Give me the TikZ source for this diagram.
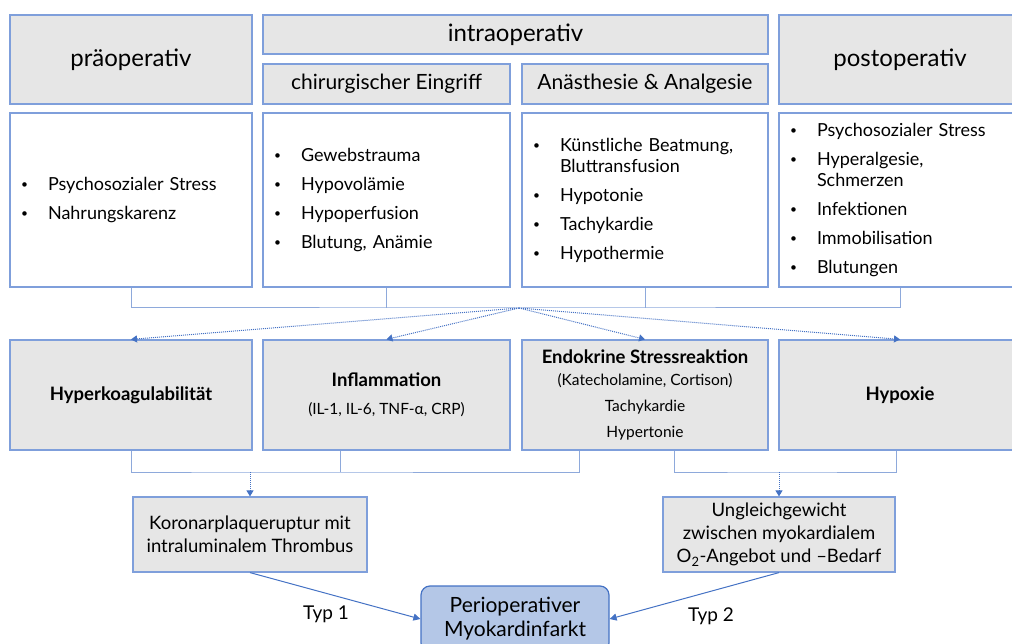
\documentclass[tikz,border=0pt]{standalone}
\usepackage{fontspec}
\setmainfont{Lato}
\usetikzlibrary{arrows.meta}

\definecolor{boxgray}{HTML}{E6E6E6}
\definecolor{boxline}{HTML}{7F9FDB}
\definecolor{linkblue}{HTML}{8EA9DB}
\definecolor{arrowblue}{HTML}{4472C4}
\definecolor{mifill}{HTML}{B4C7E7}

\newcommand{\fhead}{\fontsize{24}{28}\selectfont}
\newcommand{\fsubhead}{\fontsize{21}{24}\selectfont}
\newcommand{\flist}{\fontsize{18}{21}\selectfont}
\newcommand{\fnote}{\fontsize{15.5}{18}\selectfont}
\newcommand{\bul}[1]{\makebox[27pt][l]{\fontsize{12}{12}\selectfont\raisebox{1.5pt}{\textbullet}}#1}
\newcommand{\cont}{\hspace*{27pt}}

\begin{document}
\begin{tikzpicture}
      [x=1pt,y=-1pt,
      headbox/.style={draw=boxline,fill=boxgray,line width=1.2pt,inner sep=0pt,font=\fhead},
      subbox/.style={headbox,font=\fsubhead},
      listbox/.style={draw=boxline,fill=white,line width=1.2pt,minimum height=174pt,
        inner xsep=11pt,align=left,font=\flist},
      causebox/.style={draw=boxline,fill=boxgray,line width=1.2pt,minimum height=110pt,
        inner sep=0pt,align=center,font=\fontsize{18.5}{20}\selectfont},
      resultbox/.style={draw=boxline,fill=boxgray,line width=1.2pt,minimum height=75pt,
        inner sep=0pt,align=center,font=\fontsize{18.5}{23}\selectfont},
      mibox/.style={draw=arrowblue,fill=mifill,line width=1.2pt,rounded corners=9pt,
        minimum width=188pt,minimum height=66pt,align=center,font=\fontsize{21}{24}\selectfont},
      link/.style={linkblue,line width=1pt},
      dotarrow/.style={arrowblue,line width=1pt,densely dotted,-{Triangle[width=7pt,length=6pt]}},
      arrow/.style={arrowblue,line width=1pt,-{Triangle[width=7pt,length=7pt]}},
      typ/.style={font=\fontsize{19}{22}\selectfont}]
      \useasboundingbox (0,0) rectangle (1012,644);
      \clip (0,0) rectangle (1012,644);
      % phases
      \node[headbox,minimum width=242pt,minimum height=89pt] (pre) at (131,59.5) {präoperativ};
      \node[headbox,minimum width=505pt,minimum height=39pt] (intra) at (515.5,34.5) {intraoperativ};
      \node[subbox,minimum width=247pt,minimum height=40pt] (chir) at (386.5,84) {chirurgischer Eingriff};
      \node[subbox,minimum width=246pt,minimum height=40pt] (anae) at (645,84) {Anästhesie \& Analgesie};
      \node[headbox,minimum width=242pt,minimum height=89pt] (post) at (900,59.5) {postoperativ};
      % triggers
      \node[listbox,text width=220pt] (l1) at (131,200)
        {\bul{Psychosozialer Stress}\\[8pt]\bul{Nahrungskarenz}};
      \node[listbox,text width=225pt] (l2) at (386.5,200)
        {\bul{Gewebstrauma}\\[8pt]\bul{Hypovolämie}\\[8pt]\bul{Hypoperfusion}\\[8pt]\bul{Blutung, Anämie}};
      \node[listbox,text width=224pt] (l3) at (645,200)
        {\bul{Künstliche Beatmung,}\\\cont Bluttransfusion\\[8pt]\bul{Hypotonie}\\[8pt]\bul{Tachykardie}\\[8pt]\bul{Hypothermie}};
      \node[listbox,text width=220pt] (l4) at (900,200)
        {\bul{Psychosozialer Stress}\\[8pt]\bul{Hyperalgesie,}\\\cont Schmerzen\\[8pt]\bul{Infektionen}\\[8pt]\bul{Immobilisation}\\[8pt]\bul{Blutungen}};
      \coordinate (hub) at (519,308);
      \draw[link] (l1.south) |- (hub) -| (l4.south);
      \draw[link] (l2.south) -- (l2.south |- hub);
      \draw[link] (l3.south) -- (l3.south |- hub);
      % mechanisms
      \node[causebox,minimum width=242pt] (c1) at (131,395) {\bfseries Hyperkoagulabilität};
      \node[causebox,minimum width=247pt] (c2) at (386.5,395)
        {\bfseries Inflammation\\[8pt]{\fnote (IL-1, IL-6, TNF-α, CRP)}};
      \node[causebox,minimum width=246pt] (c3) at (645,395)
        {\bfseries Endokrine Stressreaktion\\[2pt]{\fnote (Katecholamine, Cortison)}\\[6pt]
         {\fnote Tachykardie}\\[6pt]{\fnote Hypertonie}};
      \node[causebox,minimum width=242pt] (c4) at (900,395) {\bfseries Hypoxie};
      \foreach \c in {c1,c2,c3,c4}
        \draw[dotarrow] (hub) -- (\c.north);
      % consequences
      \node[resultbox,minimum width=234pt] (r1) at (250,534.5)
        {Koronarplaqueruptur mit\\intraluminalem Thrombus};
      \node[resultbox,minimum width=232pt] (r2) at (779,534.5)
        {Ungleichgewicht\\zwischen myokardialem\\O\textsubscript{2}-Angebot und –Bedarf};
      \coordinate (hubA) at (250,472);
      \coordinate (hubB) at (779,472);
      \draw[link] (c1.south) |- (hubA) -| ([xshift=-66pt]c3.south);
      \draw[link] ([xshift=-46pt]c2.south) -- ([xshift=-46pt]c2.south |- hubA);
      \draw[link] ([xshift=29pt]c3.south) |- (hubB) -| ([xshift=-4pt]c4.south);
      \draw[dotarrow] (hubA) -- (r1.north);
      \draw[dotarrow] (hubB) -- (r2.north);
      % infarction
      \node[mibox] (mi) at (515,619) {Perioperativer\\Myokardinfarkt};
      \draw[arrow] (r1.south) -- (mi.west);
      \draw[arrow] (r2.south) -- (mi.east);
      \node[typ] (t1) at (326,614) {Typ 1};
      \node[typ] (t2) at (711,616) {Typ 2};
    \end{tikzpicture}
\end{document}
